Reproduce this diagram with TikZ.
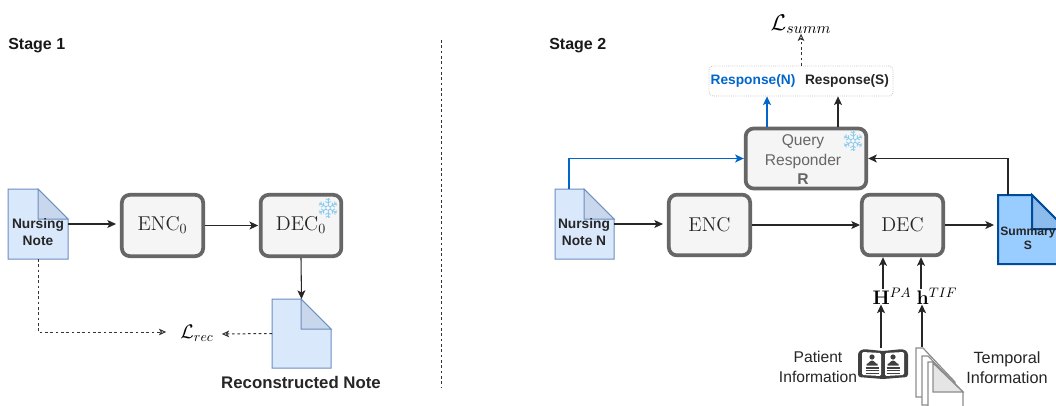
\RequirePackage{fix-cm}
\documentclass[tikz,border=0pt]{standalone}
\usepackage[no-math]{fontspec}
\setmainfont{Liberation Sans}
\usetikzlibrary{arrows.meta,calc}
\definecolor{notefill}{HTML}{DAE8FC}
\definecolor{notedraw}{HTML}{6C8EBF}
\definecolor{notefold}{HTML}{C9D7EC}
\definecolor{sumfill}{HTML}{99CCFF}
\definecolor{sumdraw}{HTML}{004C99}
\definecolor{sumfold}{HTML}{8DBBEC}
\definecolor{blueline}{HTML}{0066CC}
\definecolor{boxdraw}{HTML}{666666}
\definecolor{boxfill}{HTML}{F5F5F5}
\definecolor{flake}{HTML}{8CCBF0}
\definecolor{icondark}{HTML}{404040}
\definecolor{sheetdraw}{HTML}{8C8C8C}
\tikzset{
  blockbox/.style={draw=boxdraw,fill=boxfill,line width=2.8pt,rounded corners=6pt,inner sep=0pt,text=black!85,font=\fontsize{15}{18}\selectfont},
  anchorbox/.style={inner sep=0pt,outer sep=0pt,minimum width=#1*0.75pt},
  doclabel/.style={align=center,inner sep=0pt,font=\fontsize{10.3}{12.8}\selectfont\bfseries,text=black!85},
  plainlabel/.style={align=center,inner sep=0pt,font=\fontsize{11.7}{15}\selectfont,text=black!85},
  stagelabel/.style={anchor=west,inner sep=0pt,font=\fontsize{12}{14}\selectfont\bfseries,text=black!90},
  mathlabel/.style={inner sep=0pt,font=\fontsize{14.7}{18}\selectfont},
  conn/.style={-{Stealth[length=6.5pt,width=6pt,inset=1.6pt]},line width=0.8pt,black!85},
  bconn/.style={conn,blueline,line width=0.95pt},
  dconn/.style={-{Stealth[open,length=5.5pt,width=5pt,inset=1.4pt]},line width=0.75pt,black!80,dash pattern=on 2pt off 2pt},
}
% doc shape: x,y,w,h,fold,fill,fold fill,stroke,line width
\newcommand{\DocShape}[9]{%
  \draw[draw=#8,fill=#6,line width=#9,line join=miter] (#1,#2) -- ++({#3-#5},0) -- ++(#5,#5) -- ++(0,{#4-#5}) -- ++(-#3,0) -- cycle;
  \draw[draw=#8,fill=#7,line width=#9,line join=miter] ({#1+#3-#5},#2) -- ++(0,#5) -- ++(#5,0) -- cycle;
}
\newcommand{\Flake}[2]{%
  \begin{scope}[shift={(#1,#2)},draw=flake,line width=0.65pt]
    \foreach \a in {30,90,150,210,270,330}{
      \draw (0,0) -- ({10*cos(\a)},{10*sin(\a)});
      \draw ({5*cos(\a)+3*cos(\a+60)},{5*sin(\a)+3*sin(\a+60)}) -- ({5*cos(\a)},{5*sin(\a)}) -- ({5*cos(\a)+3*cos(\a-60)},{5*sin(\a)+3*sin(\a-60)});
      \draw ({8*cos(\a)+2.5*cos(\a+60)},{8*sin(\a)+2.5*sin(\a+60)}) -- ({8*cos(\a)},{8*sin(\a)}) -- ({8*cos(\a)+2.5*cos(\a-60)},{8*sin(\a)+2.5*sin(\a-60)});
    }
    \draw[fill=white] (0,0) circle (2.2);
  \end{scope}}
\newcommand{\Person}[2]{%
  \fill[icondark] (#1,#2) circle (2.6);
  \fill[icondark] ({#1-5.5},{#2+8.5}) -- ({#1-5.5},{#2+6.5}) to[out=-90,in=180] (#1,{#2+3.5}) to[out=0,in=-90] ({#1+5.5},{#2+6.5}) -- ({#1+5.5},{#2+8.5}) -- cycle;
  \foreach \d in {11,13.7,16.4}{\draw[icondark,line width=0.8pt] ({#1-6.5},{#2+\d}) -- ({#1+6.5},{#2+\d});}
}
\begin{document}
\begin{tikzpicture}[x=0.75pt,y=-0.75pt]
\path[clip,use as bounding box] (0,0) rectangle (1056,406);
\fill[white] (0,0) rectangle (1056,406);

% ---------- Stage 1
\node[stagelabel] (stageone) at (8,46) {Stage 1};
\node[stagelabel] (stagetwo) at (549,46) {Stage 2};
\coordinate (divtop) at (441,40);
\coordinate (divbot) at (441,388);
\draw[black!80,line width=0.7pt,dash pattern=on 2pt off 2pt] (divtop) -- (divbot);

\DocShape{8}{189}{60}{70}{30}{notefill}{notefold}{notedraw}{0.75pt}
\node[anchorbox=60,minimum height=52.5pt] (noteA) at (38,224) {};
\node[doclabel] (noteAtext) at (38,232) {Nursing\\Note};

\node[blockbox,minimum width=61pt,minimum height=46pt] (encA) at (162.5,225.5) {$\mathrm{ENC}_0$};
\node[blockbox,minimum width=60.5pt,minimum height=46pt] (decA) at (301,225.5) {$\mathrm{DEC}_0$};
\Flake{328}{208}

\DocShape{272}{299}{59}{69}{30}{notefill}{notefold}{notedraw}{0.75pt}
\node[anchorbox=59,minimum height=51.75pt] (noteB) at (301.5,333.5) {};
\node[doclabel,font=\fontsize{12.6}{14}\selectfont\bfseries] (noteBtext) at (301,382) {Reconstructed Note};
\node[mathlabel] (lrec) at (197,333) {$\mathcal{L}_{rec}$};

\draw[conn,shorten >=3pt] (noteA.east) -- (encA.west |- noteA.east);
\draw[conn,shorten >=0.5pt] (encA.east) -- (decA.west);
\draw[conn] (decA.south) -- (noteB.north);
\draw[dconn] (noteA.south) |- ($(lrec.west)+(-14,-1)$);
\draw[dconn] (noteB.west) -- ($(lrec.east)+(8,1)$);

% ---------- Stage 2
\DocShape{555}{189}{59}{70}{30}{notefill}{notefold}{notedraw}{0.75pt}
\node[anchorbox=59,minimum height=52.5pt] (noteN) at (584.5,224) {};
\node[doclabel] (noteNtext) at (584,232) {Nursing\\Note N};

\node[blockbox,minimum width=61pt,minimum height=45.5pt] (enc) at (709.5,225) {$\mathrm{ENC}$};
\node[blockbox,minimum width=61pt,minimum height=45.5pt] (dec) at (902.5,225) {$\mathrm{DEC}$};
\node[blockbox,minimum width=90.5pt,minimum height=45pt] (qr) at (806,158.5) {};
\node[plainlabel,text=boxdraw] (qrtext) at (803,159.5) {Query\\Responder\\[-1pt]\textbf{R}};
\Flake{853}{141}

\DocShape{998}{195}{68}{69}{34}{sumfill}{sumfold}{sumdraw}{1.5pt}
\node[anchorbox=68,minimum height=51.75pt] (sum) at (1032,229.5) {};
\node[doclabel,font=\fontsize{9.1}{10.6}\selectfont\bfseries] (sumtext) at (1028,238) {Summary\\S};

\node[draw=black!25,densely dotted,line width=0.6pt,rounded corners=3pt,minimum width=138pt,minimum height=22.5pt,inner sep=0pt] (respbox) at (801,81) {};
\node[doclabel,text=blueline] (respN) at (753,81) {Response(N)};
\node[doclabel] (respS) at (847,81) {Response(S)};
\node[mathlabel,font=\fontsize{17}{20}\selectfont] (lsumm) at (801,24) {$\mathcal{L}_{summ}$};

\draw[conn,shorten >=3pt] (noteN.east) -- (enc.west |- noteN.east);
\draw[conn] (enc.east) -- (dec.west);
\draw[conn,shorten >=3pt] (dec.east) -- (sum.west |- dec.east);
\draw[bconn] ($(noteN.north west)+(14,0)$) |- (qr.west);
\draw[conn] ($(sum.north west)+(10,0)$) |- (qr.east);
\draw[bconn] (qr.north -| 767,0) -- (respbox.south -| 767,0);
\draw[conn] (qr.north -| 838,0) -- (respbox.south -| 838,0);
\draw[dconn] (respbox.north) -- (lsumm.south);

% inputs
\node[mathlabel] (hpa) at (892,296) {$\mathbf{H}^{PA}$};
\node[mathlabel] (htif) at (937,296) {$\mathbf{h}^{TIF}$};
\node[plainlabel] (patient) at (818,367) {Patient\\Information};
\node[plainlabel,font=\fontsize{12.2}{15}\selectfont] (temporal) at (1007,367.5) {Temporal\\Information};

% book icon
\node[inner sep=0pt,minimum width=37.5pt,minimum height=22.5pt] (book) at (883,364) {};
\fill[icondark,rounded corners=2pt] (858,352) -- (863,349) -- (883,351) -- (903,349) -- (908,352) -- (908,377) -- (883,379) -- (858,377) -- cycle;
\fill[white,rounded corners=1pt] (862,352) -- (881,353) -- (881,376) -- (862,375) -- cycle;
\fill[white,rounded corners=1pt] (885,353) -- (904,352) -- (904,375) -- (885,376) -- cycle;
\Person{872}{357}
\Person{893}{357}

% sheets icon
\node[inner sep=0pt,minimum width=36pt,minimum height=43.5pt] (sheets) at (939,377) {};
\begin{scope}[line width=0.9pt,draw=sheetdraw,fill=white]
  \filldraw (916,397) -- (916,348) -- (923,348) -- (955,382) -- (955,397) -- cycle;
  \filldraw (922,405) -- (922,356) -- (928,356) -- (959,388) -- (959,405) -- cycle;
  \filldraw (928,412) -- (928,362) -- (933,362) -- (963,392) -- (963,412) -- cycle;
  \filldraw[fill=black!10] (933,363) -- (933,392) -- (963,392) -- cycle;
\end{scope}

\draw[conn] (hpa.north -| 883,0) ++(0,2) -- (dec.south -| 883,0);
\draw[conn] (htif.north -| 921,0) ++(0,2) -- (dec.south -| 921,0);
\draw[conn] (book.north -| 881,0) ++(0,-1) -- (hpa.south -| 881,0);
\draw[conn] (sheets.north -| 922,0) ++(0,-1) -- (htif.south -| 922,0);
\end{tikzpicture}
\end{document}
